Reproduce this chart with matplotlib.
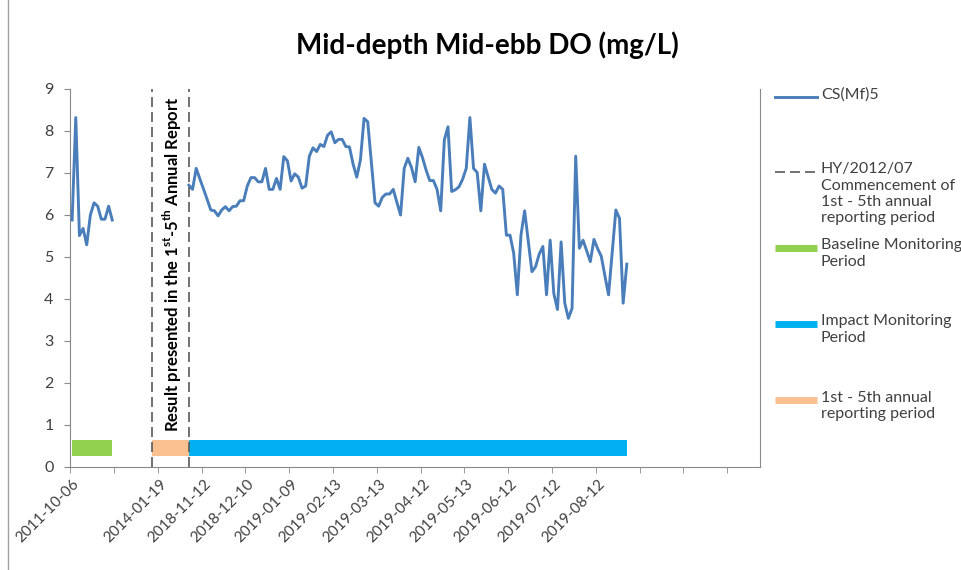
import numpy as np
import matplotlib
matplotlib.use('Agg')
from matplotlib import pyplot as plt
from matplotlib.lines import Line2D

plt.rcParams['font.family'] = ['Lato', 'DejaVu Sans']
plt.rcParams['mathtext.fontset'] = 'custom'
plt.rcParams['mathtext.rm'] = 'Lato'
plt.rcParams['mathtext.bf'] = 'Lato:bold'

# category axis: one slot per sampling row (blank rows give the gaps)
n_categories = 189
tick_every = 12
tick_labels = ['2011-10-06', '', '2014-01-19', '2018-11-12', '2018-12-10',
               '2019-01-09', '2019-02-13', '2019-03-13', '2019-04-12',
               '2019-05-13', '2019-06-12', '2019-07-12', '2019-08-12',
               '', '', '']

# CS(Mf)5 mid-depth mid-ebb DO (mg/L)
baseline_start = 0
baseline_do = [5.88, 8.32, 5.51, 5.68, 5.29, 6.00, 6.29, 6.21, 5.90, 5.90,
               6.21, 5.88]

impact_start = 32
impact_do = [6.71, 6.61, 7.11, 6.86, 6.62, 6.37, 6.12, 6.10, 5.98, 6.12,
             6.20, 6.10, 6.20, 6.21, 6.34, 6.34, 6.69, 6.89, 6.89, 6.79,
             6.79, 7.11, 6.61, 6.61, 6.87, 6.61, 7.39, 7.29, 6.81, 6.98,
             6.90, 6.64, 6.69, 7.40, 7.60, 7.51, 7.68, 7.63, 7.90, 7.98,
             7.72, 7.80, 7.80, 7.63, 7.62, 7.21, 6.90, 7.31, 8.30, 8.22,
             7.25, 6.29, 6.21, 6.42, 6.50, 6.50, 6.61, 6.30, 6.00, 7.11,
             7.35, 7.13, 6.79, 7.61, 7.37, 7.07, 6.82, 6.82, 6.61, 6.10,
             7.79, 8.10, 6.56, 6.60, 6.67, 6.85, 7.11, 8.32, 7.11, 7.01,
             6.10, 7.21, 6.91, 6.61, 6.52, 6.69, 6.61, 5.52, 5.52, 5.09,
             4.10, 5.52, 6.10, 5.38, 4.65, 4.77, 5.07, 5.25, 4.10, 5.40,
             4.13, 3.75, 5.36, 3.90, 3.54, 3.78, 7.40, 5.21, 5.40, 5.15,
             4.89, 5.42, 5.20, 5.02, 4.55, 4.10, 5.10, 6.12, 5.92, 3.90,
             4.83]

# monitoring periods (category index ranges) drawn as a band at 0.45
period_names = ['Baseline Monitoring\nPeriod', 'Impact Monitoring\nPeriod',
                '1st - 5th annual\nreporting period']
period_start = [0, 32, 22]
period_end = [11, 152, 32]
period_level = 0.45

# HY/2012/07 reporting window boundaries
report_lines = [22, 32]

period_colors = ['#92D050', '#00B0F0', '#FAC090']
line_color = '#4A7EBB'
dash_color = '#595959'
axis_color = '#898989'
label_color = '#404040'

W, H = 962, 570
fig = plt.figure(figsize=(W / 100, H / 100), dpi=100)
ax = fig.add_axes([70.3 / W, 1 - 467 / H, (760 - 70.3) / W, (467 - 89) / H])

x = np.arange(n_categories)
do = np.full(n_categories, np.nan)
do[baseline_start:baseline_start + len(baseline_do)] = baseline_do
do[impact_start:impact_start + len(impact_do)] = impact_do
ax.plot(x, do, color=line_color, lw=2.1, zorder=3)

for s, e, c in zip(period_start, period_end, period_colors):
    ax.plot([s, e], [period_level, period_level], color=c, lw=11.5,
            solid_capstyle='butt', zorder=2)

for xv in report_lines:
    ax.axvline(xv, color=dash_color, lw=1.2, dashes=(6, 3), zorder=4)

ax.text(np.mean(report_lines) + 0.6, 4.83,
        r'Result presented in the 1$^{\mathbf{st}}$-5$^{\mathbf{th}}$ Annual Report',
        rotation=90, ha='center', va='center', fontsize=12,
        fontweight='bold', color='black')

ax.set_xlim(-0.5, n_categories - 0.5)
ax.set_ylim(0, 9)
ax.set_yticks(range(0, 10))
ax.set_xticks(np.arange(0, n_categories, tick_every))
ax.set_xticklabels(tick_labels)
ax.set_xticks(np.arange(-0.5, n_categories, tick_every), minor=True)
ax.tick_params(axis='x', which='major', length=0, pad=7, labelsize=11,
               labelcolor=label_color)
ax.tick_params(axis='x', which='minor', length=4, color=axis_color,
               direction='out')
ax.tick_params(axis='y', length=4, color=axis_color, labelsize=11.5,
               labelcolor=label_color, pad=8)
plt.setp(ax.get_xticklabels(), rotation=45, ha='right',
         rotation_mode='anchor')

for side in ['left', 'bottom', 'right']:
    ax.spines[side].set_color(axis_color)
ax.spines['top'].set_visible(False)

fig.text(487 / W, 1 - 45 / H, 'Mid-depth Mid-ebb DO (mg/L)', ha='center',
         va='center', fontsize=20, fontweight='bold')

# legend drawn by hand (Excel style: handle next to the first text line)
leg_y = [97, 172, 248, 324, 400]
leg_text = ['CS(Mf)5',
            'HY/2012/07\nCommencement of\n1st - 5th annual\nreporting period'] \
    + period_names
for i, (yy, txt) in enumerate(zip(leg_y, leg_text)):
    fy = 1 - yy / H
    if i == 0:
        h = Line2D([775 / W, 817 / W], [fy, fy], color=line_color, lw=2.1)
    elif i == 1:
        h = Line2D([775 / W, 817 / W], [fy, fy], color=dash_color, lw=1.2,
                   dashes=(6, 3))
    else:
        h = Line2D([775 / W, 817 / W], [fy, fy], color=period_colors[i - 2],
                   lw=5, solid_capstyle='butt')
    fig.add_artist(h)
    fig.text(821 / W, fy + 9.5 / H, txt, ha='left', va='top', fontsize=11.5,
             color=label_color, linespacing=1.2)

fig.add_artist(Line2D([8 / W, 8 / W], [0, 1], color='#A0A0A0', lw=1))

fig.savefig('out.png', dpi=100)
